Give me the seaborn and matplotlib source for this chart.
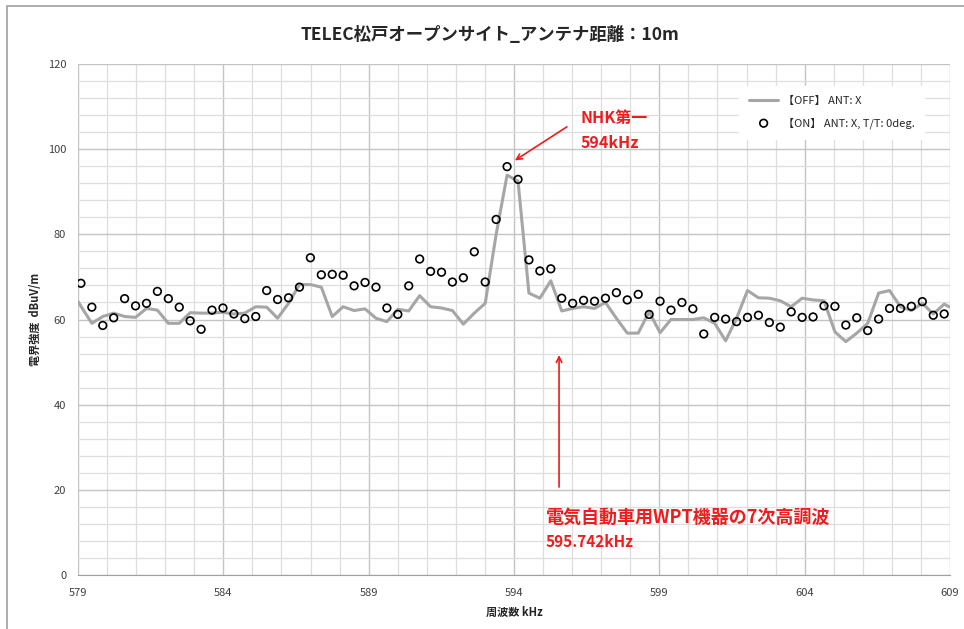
import numpy as np
import pandas as pd
import seaborn as sns
import matplotlib.pyplot as plt
from matplotlib.patches import Rectangle
from matplotlib.ticker import MultipleLocator

# 測定データ (周波数 kHz / 電界強度 dBuV/m)
freq_on = np.round(np.linspace(579.1, 608.8, 80), 3)
freq_off = np.concatenate([[579.0], freq_on[1:], [609.0]])

level_off = [64.2, 59.1, 60.7, 61.5, 60.7, 60.5, 62.6, 62.2, 59.1, 59.1,
             61.6, 61.5, 61.5, 61.7, 61.3, 61.5, 63.0, 62.9, 60.3, 63.8,
             68.2, 68.2, 67.6, 60.7, 63.0, 62.1, 62.5, 60.3, 59.5, 62.4,
             62.0, 65.6, 63.0, 62.7, 62.1, 58.9, 61.5, 63.8, 80.0, 93.9,
             92.5, 66.2, 65.0, 69.1, 62.0, 62.6, 63.0, 62.6, 64.0, 60.3,
             56.8, 56.8, 61.8, 56.9, 60.0, 60.0, 60.0, 60.4, 59.1, 55.0,
             60.3, 66.8, 65.1, 65.0, 64.4, 63.0, 65.0, 64.6, 64.4, 57.1,
             54.8, 56.8, 59.1, 66.2, 66.8, 63.0, 62.1, 63.8, 61.3, 63.6,
             62.9]

level_on = [68.5, 62.9, 58.6, 60.4, 64.9, 63.2, 63.8, 66.6, 64.9, 62.9,
            59.7, 57.7, 62.2, 62.7, 61.3, 60.2, 60.7, 66.8, 64.7, 65.1,
            67.6, 74.5, 70.5, 70.6, 70.4, 67.9, 68.7, 67.6, 62.7, 61.2,
            67.9, 74.2, 71.3, 71.1, 68.8, 69.8, 75.9, 68.8, 83.5, 95.9,
            92.9, 74.0, 71.4, 71.9, 65.0, 63.8, 64.5, 64.3, 65.0, 66.3,
            64.6, 65.9, 61.2, 64.3, 62.2, 64.0, 62.5, 56.6, 60.5, 60.1,
            59.5, 60.5, 61.0, 59.3, 58.2, 61.8, 60.5, 60.6, 63.2, 63.1,
            58.7, 60.4, 57.4, 60.1, 62.6, 62.6, 63.1, 64.2, 61.0, 61.3]

x_ticks = [579, 584, 589, 594, 599, 604, 609]

df_off = pd.DataFrame({"freq": freq_off, "level": level_off})
df_on = pd.DataFrame({"freq": freq_on, "level": level_on})

sns.set_style("white")
plt.rcParams['font.family'] = ['Noto Sans CJK JP', 'DejaVu Sans']

fig = plt.figure(figsize=(9.64, 6.29), dpi=100)
ax = fig.add_axes([78/964, 1-575/629, 872/964, 511/629])

sns.lineplot(data=df_off, x="freq", y="level", ax=ax, color="#a6a6a6",
             linewidth=2.2, label="【OFF】 ANT: X", zorder=3)
sns.scatterplot(data=df_on, x="freq", y="level", ax=ax, marker="o", s=30,
                facecolor="none", edgecolor="black", linewidth=1.2,
                label="【ON】 ANT: X, T/T: 0deg.", zorder=4)

ax.set_xlim(579, 609)
ax.set_ylim(0, 120)
ax.set_xticks(x_ticks)
ax.xaxis.set_minor_locator(MultipleLocator(1))
ax.yaxis.set_major_locator(MultipleLocator(20))
ax.yaxis.set_minor_locator(MultipleLocator(4))
ax.grid(which="major", color="#c4c4c4", linewidth=1.0)
ax.grid(which="minor", color="#dedede", linewidth=0.9)
ax.set_axisbelow(True)

for s in ["top", "right", "left"]:
    ax.spines[s].set_visible(False)
ax.spines["bottom"].set_color("#a0a0a0")
ax.tick_params(axis="x", which="both", direction="out", length=5, color="#a0a0a0",
               labelsize=8, labelcolor="#404040", pad=4)
ax.tick_params(axis="y", which="major", direction="out", length=5, color="#c4c4c4",
               labelsize=8, labelcolor="#404040")
ax.tick_params(axis="y", which="minor", length=0)

ax.set_xlabel("周波数 kHz", fontsize=8, fontweight="bold", labelpad=6)
ax.set_ylabel("電界強度  dBuV/m", fontsize=8, fontweight="bold", labelpad=4)

fig.text(0.508, 1-35/629, "TELEC松戸オープンサイト_アンテナ距離：10m",
         ha="center", va="center", fontsize=12.5, fontweight="bold")

leg = ax.legend(loc="upper right", bbox_to_anchor=(0.977, 0.968), fontsize=8,
                frameon=True, handlelength=2.6, labelspacing=1.0,
                borderpad=0.9, handletextpad=0.4)
leg.get_frame().set_facecolor("white")
leg.get_frame().set_edgecolor("white")
leg.get_frame().set_alpha(1)

red = "#ee1c1c"
ax.annotate("", xy=(593.95, 97.0), xytext=(595.9, 105.6),
            arrowprops=dict(arrowstyle="->", color=red, lw=1.2))
ax.text(596.3, 107.3, "NHK第一", color=red, fontsize=11.5, fontweight="bold",
        ha="left", va="center")
ax.text(596.3, 101.5, "594kHz", color=red, fontsize=11.5, fontweight="bold",
        ha="left", va="center")

ax.annotate("", xy=(595.55, 52.3), xytext=(595.55, 20.0),
            arrowprops=dict(arrowstyle="->", color=red, lw=1.2))
ax.text(595.1, 13.6, "電気自動車用WPT機器の7次高調波", color=red, fontsize=13,
        fontweight="bold", ha="left", va="center")
ax.text(595.1, 7.8, "595.742kHz", color=red, fontsize=11, fontweight="bold",
        ha="left", va="center")

fig.add_artist(Rectangle((7/964, -0.5), 2, 1 - 6/629 + 0.5, transform=fig.transFigure,
                         fill=False, edgecolor="#a0a0a0", linewidth=1.2))

fig.savefig("out.png", dpi=100)
